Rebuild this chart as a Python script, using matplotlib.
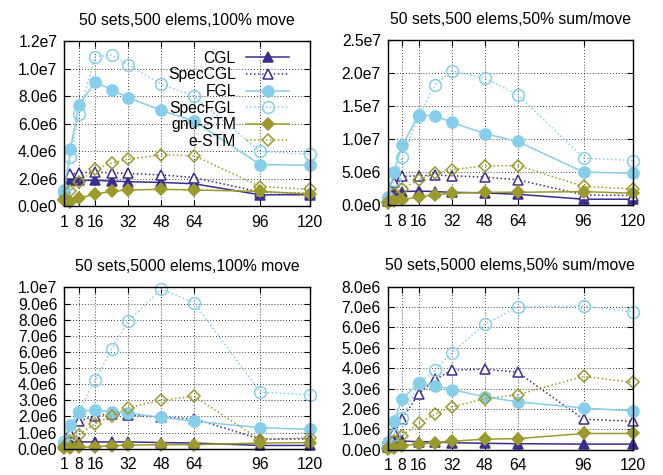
import matplotlib
matplotlib.use("Agg")
import matplotlib.pyplot as plt
from matplotlib.ticker import FuncFormatter, FixedLocator
import math

plt.rcParams['font.family'] = ['Liberation Sans', 'DejaVu Sans']

threads = [1, 4, 8, 16, 24, 32, 48, 64, 96, 120]
xtick_vals = [1, 8, 16, 32, 48, 64, 96, 120]

titles = [
    "50 sets,500 elems,100% move",
    "50 sets,500 elems,50% sum/move",
    "50 sets,5000 elems,100% move",
    "50 sets,5000 elems,50% sum/move",
]

# values in units of 1e6
p1_CGL     = [0.9, 1.9, 1.9, 1.9, 1.85, 1.8, 1.75, 1.65, 0.85, 0.85]
p1_SpecCGL = [0.9, 2.35, 2.45, 2.5, 2.45, 2.4, 2.3, 2.1, 1.05, 0.95]
p1_FGL     = [1.2, 4.2, 7.35, 9.05, 8.5, 7.9, 7.0, 6.2, 3.05, 3.0]
p1_SpecFGL = [1.0, 3.6, 6.7, 10.9, 11.0, 10.3, 8.9, 8.0, 4.0, 3.8]
p1_gnuSTM  = [0.45, 0.35, 0.6, 0.9, 1.1, 1.2, 1.25, 1.2, 1.1, 0.9]
p1_eSTM    = [0.5, 1.15, 1.8, 2.7, 3.15, 3.45, 3.75, 3.7, 1.45, 1.25]

p2_CGL     = [0.7, 2.0, 2.1, 2.2, 2.1, 2.0, 1.9, 1.7, 0.95, 0.95]
p2_SpecCGL = [0.9, 3.6, 4.4, 4.5, 4.6, 4.5, 4.3, 3.9, 1.6, 1.5]
p2_FGL     = [1.35, 5.05, 9.1, 13.7, 13.6, 12.6, 10.9, 9.7, 5.05, 4.9]
p2_SpecFGL = [1.2, 3.8, 7.4, 13.5, 18.3, 20.4, 19.3, 16.8, 7.2, 6.8]
p2_gnuSTM  = [0.35, 0.7, 0.85, 1.3, 1.6, 1.85, 2.0, 2.0, 2.1, 1.85]
p2_eSTM    = [0.6, 1.8, 2.5, 3.9, 4.9, 5.4, 6.0, 6.05, 2.9, 2.5]

p3_CGL     = [0.2, 0.42, 0.42, 0.42, 0.42, 0.42, 0.38, 0.35, 0.2, 0.2]
p3_SpecCGL = [0.3, 0.95, 1.7, 2.05, 2.15, 2.1, 1.95, 1.85, 0.6, 0.6]
p3_FGL     = [0.3, 1.45, 2.3, 2.4, 2.3, 2.2, 1.95, 1.7, 1.3, 1.2]
p3_SpecFGL = [0.4, 0.95, 2.3, 4.25, 6.2, 7.9, 9.9, 9.05, 3.5, 3.35]
p3_gnuSTM  = [0.02, 0.05, 0.08, 0.12, 0.18, 0.22, 0.25, 0.25, 0.35, 0.38]
p3_eSTM    = [0.1, 0.5, 0.85, 1.55, 2.05, 2.55, 3.0, 3.25, 0.55, 0.68]

p4_CGL     = [0.15, 0.43, 0.43, 0.4, 0.38, 0.35, 0.32, 0.3, 0.28, 0.28]
p4_SpecCGL = [0.2, 0.85, 1.5, 2.75, 3.45, 3.9, 3.95, 3.8, 1.5, 1.4]
p4_FGL     = [0.4, 1.4, 2.5, 3.25, 3.15, 2.95, 2.6, 2.35, 2.05, 1.9]
p4_SpecFGL = [0.3, 0.75, 1.55, 3.25, 3.9, 4.75, 6.15, 7.0, 7.05, 6.75]
p4_gnuSTM  = [0.05, 0.1, 0.2, 0.28, 0.35, 0.42, 0.52, 0.55, 0.8, 0.8]
p4_eSTM    = [0.1, 0.43, 0.7, 1.3, 1.75, 2.1, 2.5, 2.7, 3.6, 3.3]

panels = [
    [p1_CGL, p1_SpecCGL, p1_FGL, p1_SpecFGL, p1_gnuSTM, p1_eSTM],
    [p2_CGL, p2_SpecCGL, p2_FGL, p2_SpecFGL, p2_gnuSTM, p2_eSTM],
    [p3_CGL, p3_SpecCGL, p3_FGL, p3_SpecFGL, p3_gnuSTM, p3_eSTM],
    [p4_CGL, p4_SpecCGL, p4_FGL, p4_SpecFGL, p4_gnuSTM, p4_eSTM],
]
series_names = ["CGL", "SpecCGL", "FGL", "SpecFGL", "gnu-STM", "e-STM"]
ymax = [12e6, 25e6, 10e6, 8e6]
ystep = [2e6, 5e6, 1e6, 1e6]

navy = "#3a2d8f"
sky = "#87ceeb"
olive = "#9c9a2c"
dot = (0, (1.0, 1.6))
styles = [
    dict(color=navy, ls='-', marker='^', mfc=navy, ms=7),
    dict(color=navy, ls=dot, marker='^', mfc='white', ms=7.5),
    dict(color=sky, ls='-', marker='o', mfc=sky, ms=8),
    dict(color=sky, ls=dot, marker='o', mfc='none', ms=8.5),
    dict(color=olive, ls='-', marker='D', mfc=olive, ms=6),
    dict(color=olive, ls=dot, marker='D', mfc='none', ms=6),
]

def fmt(v, pos):
    if abs(v) < 1e-9:
        return "0.0e0"
    e = int(math.floor(math.log10(abs(v)) + 1e-9))
    m = v / 10**e
    return f"{m:.1f}e{e}"

fig = plt.figure(figsize=(6.63, 4.75), dpi=100)
pos = [
    [0.097, 0.5653, 0.370, 0.3474],
    [0.5848, 0.5674, 0.370, 0.3474],
    [0.097, 0.0554, 0.370, 0.3395],
    [0.5848, 0.0530, 0.370, 0.3438],
]
fs = 11.3
for i in range(4):
    ax = fig.add_axes(pos[i])
    lines = []
    for vals, name, st in zip(panels[i], series_names, styles):
        ln, = ax.plot(threads, [v * 1e6 for v in vals], lw=1.1, mew=1.1,
                      mec=st['color'], label=name, clip_on=False, **st)
        lines.append(ln)
    ax.set_xlim(1, 120)
    ax.set_ylim(0, ymax[i])
    ax.xaxis.set_major_locator(FixedLocator(xtick_vals))
    n = int(round(ymax[i] / ystep[i]))
    ax.yaxis.set_major_locator(FixedLocator([k * ystep[i] for k in range(n + 1)]))
    ax.yaxis.set_major_formatter(FuncFormatter(fmt))
    ax.tick_params(direction='in', top=True, right=True, length=4, width=0.8,
                   labelsize=fs, pad=6)
    ax.tick_params(axis='y', pad=5)
    ax.grid(True, color='black', ls=(0, (1, 2.5)), lw=0.6)
    ax.set_axisbelow(True)
    for s in ax.spines.values():
        s.set_linewidth(1.0)
    ax.set_title(titles[i], fontsize=fs, pad=12)
    if i == 0:
        leg = ax.legend(handles=lines, loc='upper right', markerfirst=False,
                        frameon=False, fontsize=fs, handlelength=2.75,
                        labelspacing=0.1, handletextpad=0.65,
                        borderaxespad=0.2, bbox_to_anchor=(0.955, 1.0))

fig.savefig("out.png", dpi=100)
